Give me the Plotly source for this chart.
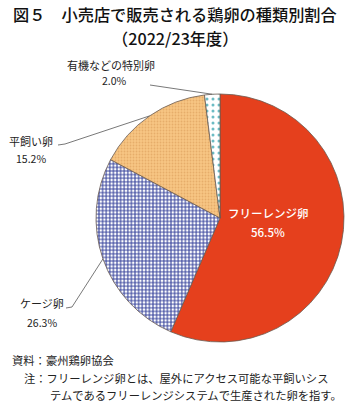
import math
import plotly.graph_objects as go

W, H = 350, 404

categories = ["フリーレンジ卵", "ケージ卵", "平飼い卵", "有機などの特別卵"]
shares = [56.5, 26.3, 15.2, 2.0]
share_labels = ["56.5%", "26.3%", "15.2%", "2.0%"]

title_line1 = "図５　小売店で販売される鶏卵の種類別割合"
title_line2 = "（2022/23年度）"
source_note = "資料：豪州鶏卵協会"
note_line1 = "注：フリーレンジ卵とは、屋外にアクセス可能な平飼いシス"
note_line2 = "テムであるフリーレンジシステムで生産された卵を指す。"

FONT = "Noto Sans CJK JP"

# pie geometry in pixels
CX, CY, R = 220, 218, 124


def px(x):
    return x / W


def py(y):
    return 1 - y / H


fig = go.Figure()
fig.add_trace(go.Pie(
    labels=categories,
    values=shares,
    sort=False,
    direction="clockwise",
    rotation=0,
    textinfo="none",
    hoverinfo="label+percent",
    showlegend=False,
    domain=dict(x=[px(CX - R), px(CX + R)], y=[py(CY + R), py(CY - R)]),
    marker=dict(
        colors=["#e5401d", "#ffffff", "#f8c684", "#ffffff"],
        line=dict(color="#6a5a50", width=0.8),
        pattern=dict(
            shape=["", "+", ".", "."],
            fgcolor=["#e5401d", "#33409a", "#e6ad6a", "#6cbcc4"],
            bgcolor=["#e5401d", "#ffffff", "#f8c684", "#ffffff"],
            size=[6, 3.6, 3, 6],
            solidity=[0.3, 0.5, 0.3, 0.2],
            fillmode="replace",
        ),
    ),
))


def edge_point(idx, frac=0.5):
    total = sum(shares)
    start = sum(shares[:idx]) / total
    mid = start + frac * shares[idx] / total
    ang = 2 * math.pi * mid
    return CX + R * math.sin(ang), CY - R * math.cos(ang)


annotations = []
shapes = []


def text(x, y, s, size=11, color="#222", xanchor="center", weight="normal"):
    annotations.append(dict(
        x=px(x), y=py(y), xref="paper", yref="paper", text=s,
        showarrow=False, xanchor=xanchor, yanchor="middle",
        font=dict(family=FONT, size=size, color=color, weight=weight),
    ))


def leader(points):
    d = "M " + " L ".join(f"{px(x)},{py(y)}" for x, y in points)
    shapes.append(dict(type="path", xref="paper", yref="paper", path=d,
                       line=dict(color="#555555", width=0.8)))


# title
text(175, 14, title_line1, size=16.2, color="#111", weight=500)
text(175, 38, title_line2, size=16.2, color="#111", weight=500)

# free-range label inside
text(268, 213, categories[0], size=11.5, color="white", weight=500)
text(268, 232, share_labels[0], size=11.5, color="white", weight=500)

# cage
text(42, 303, categories[1], size=11)
text(42, 322, share_labels[1], size=10.5)
ex, ey = edge_point(1)
leader([(66, 308), (72, 307), (ex, ey)])

# flat-feed
text(31, 141, categories[2], size=11)
text(31, 158, share_labels[2], size=10.5)
ex, ey = edge_point(2)
leader([(58, 145), (65, 144), (ex, ey)])

# organic
text(111, 65, categories[3], size=11)
text(114, 81, share_labels[3], size=10.5)
ex, ey = edge_point(3)
leader([(150, 85), (ex, ey)])

# notes
text(10, 360, source_note, size=11.3, xanchor="left")
text(22, 378, note_line1, size=11.3, xanchor="left")
text(48, 395, note_line2, size=11.3, xanchor="left")

fig.update_layout(
    width=W, height=H,
    margin=dict(l=0, r=0, t=0, b=0),
    paper_bgcolor="white",
    plot_bgcolor="white",
    annotations=annotations,
    shapes=shapes,
    font=dict(family=FONT),
)

fig.write_html("out.html")
